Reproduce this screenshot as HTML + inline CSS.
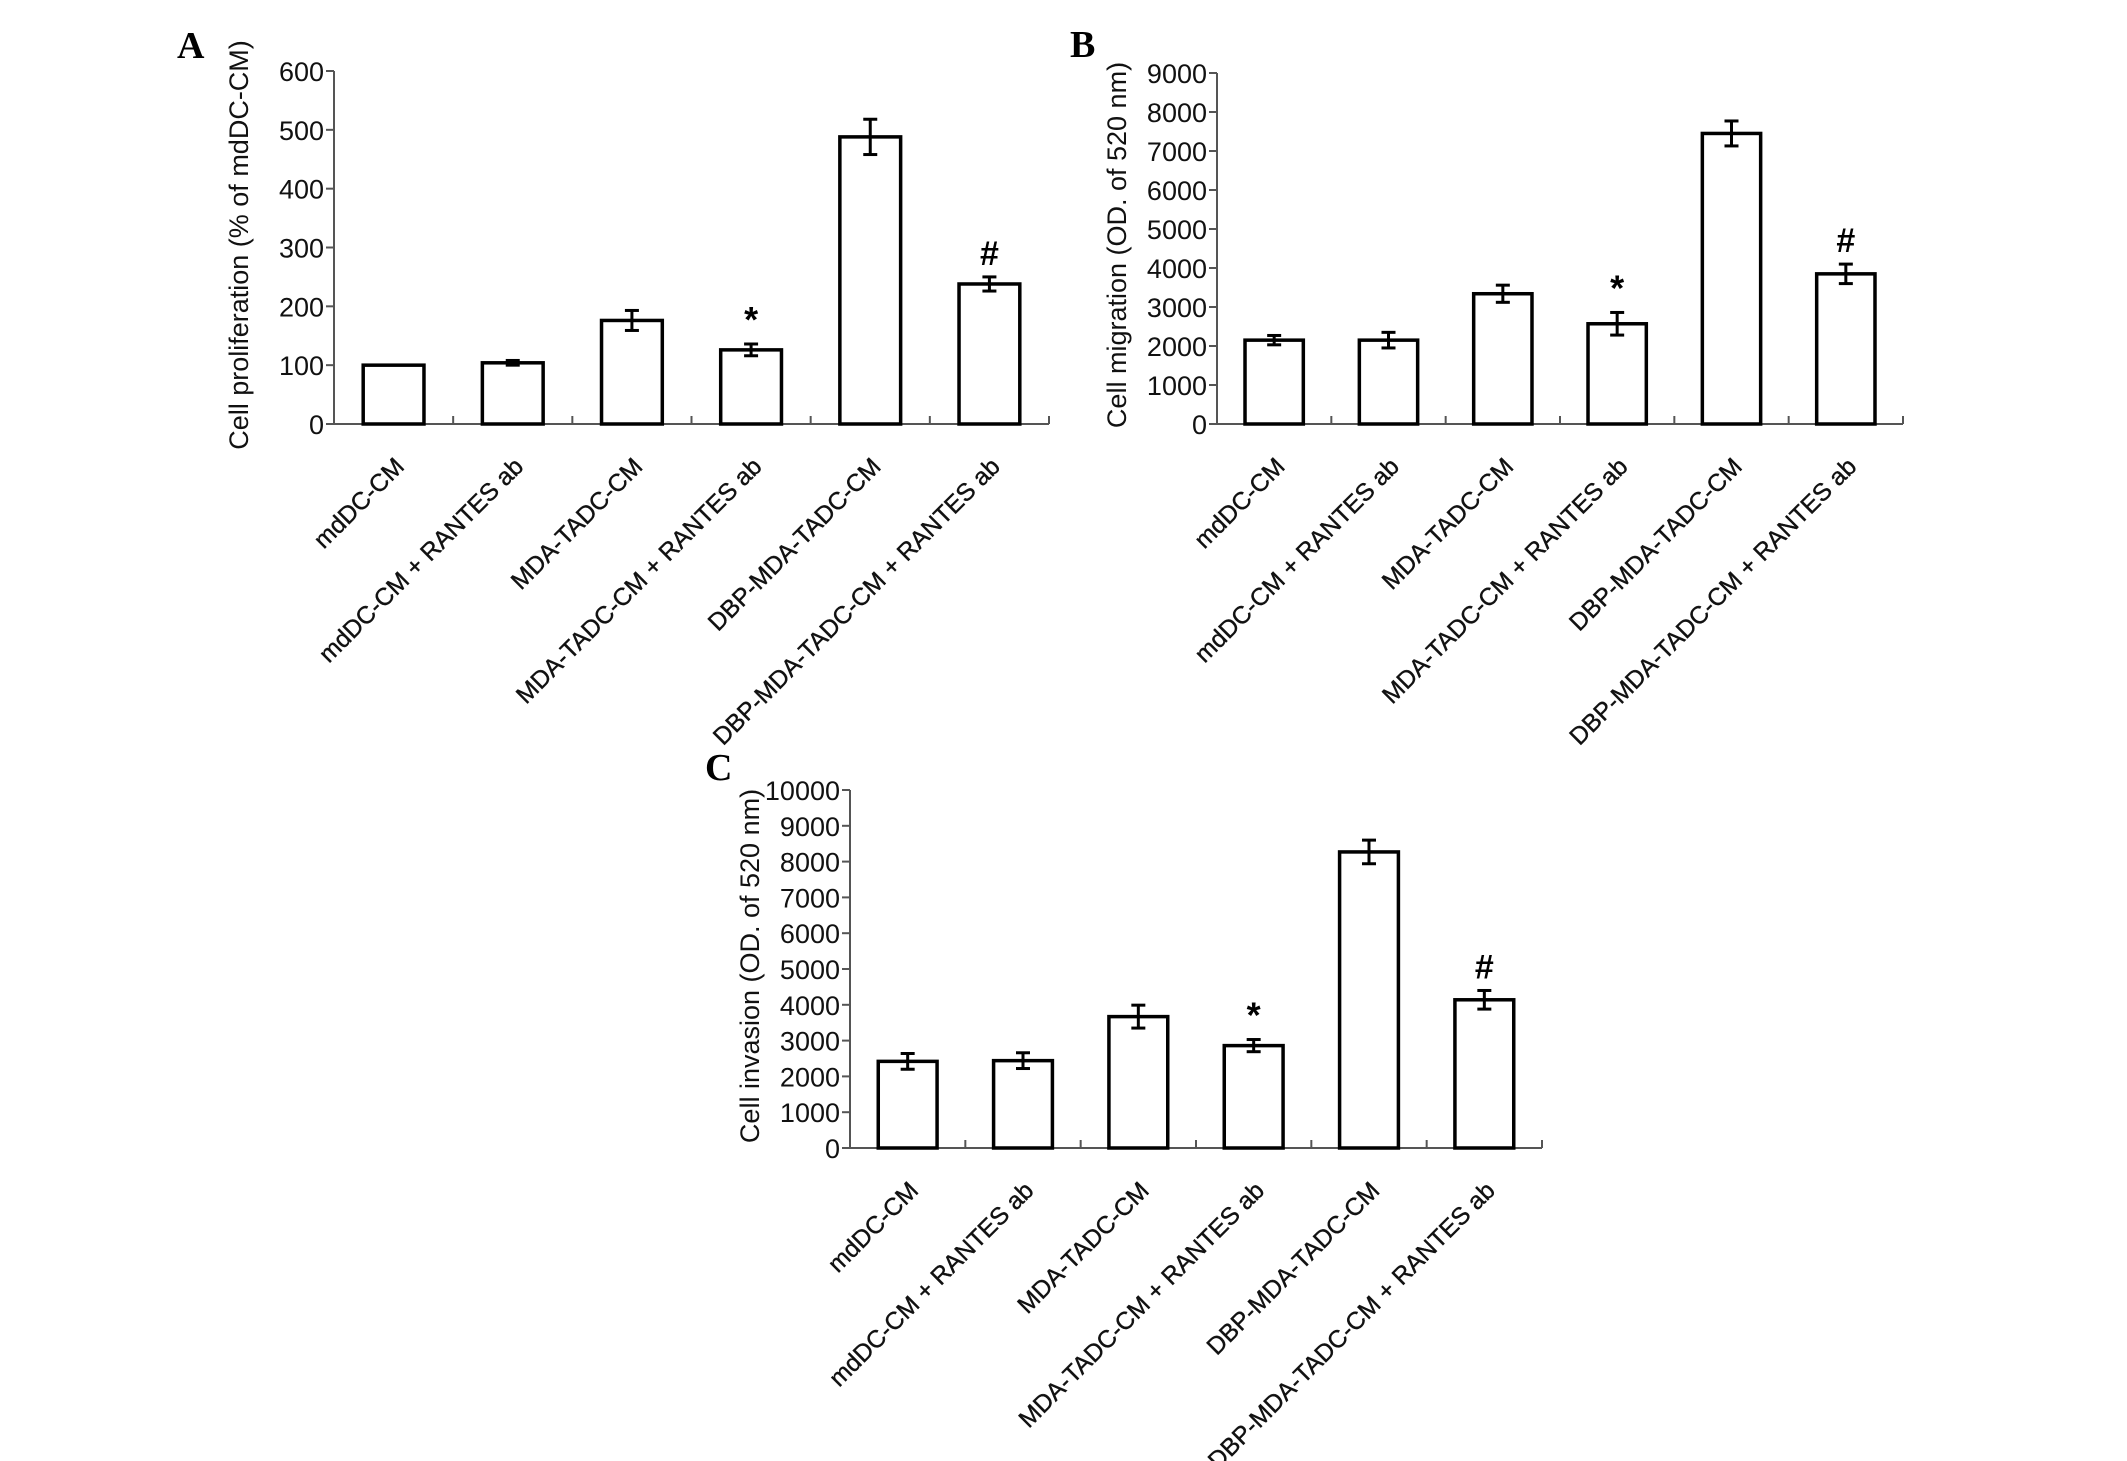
<!DOCTYPE html>
<html><head><meta charset="utf-8"><style>
html,body{margin:0;padding:0;background:#fff;}
svg{display:block;font-family:"Liberation Sans",Arial,sans-serif;}
</style></head><body>
<svg id="fig" width="2127" height="1461" viewBox="0 0 2127 1461" xmlns="http://www.w3.org/2000/svg"></svg>
<script>
const categories = ["mdDC-CM","mdDC-CM + RANTES ab","MDA-TADC-CM","MDA-TADC-CM + RANTES ab","DBP-MDA-TADC-CM","DBP-MDA-TADC-CM + RANTES ab"];
const valuesA = [100,104,176,126,488,238];
const errorsA = [0,4,17,10,30,12];
const ticksA = [0,100,200,300,400,500,600];
const valuesB = [2150,2150,3340,2570,7450,3850];
const errorsB = [120,200,220,290,320,250];
const ticksB = [0,1000,2000,3000,4000,5000,6000,7000,8000,9000];
const valuesC = [2420,2440,3670,2860,8270,4140];
const errorsC = [220,220,320,170,330,260];
const ticksC = [0,1000,2000,3000,4000,5000,6000,7000,8000,9000,10000];
const marksA = ["","","","*","","#"];
const marksB = ["","","","*","","#"];
const marksC = ["","","","*","","#"];

const NS="http://www.w3.org/2000/svg";
const svg=document.getElementById('fig');
function mk(tag,attrs,parent){const e=document.createElementNS(NS,tag);for(const k in attrs)e.setAttribute(k,attrs[k]);(parent||svg).appendChild(e);return e;}

function panel(cfg,values,errors,ticks,marks){
  const g=mk('g',{});
  
  
  const ymax=ticks[ticks.length-1];
  const y=v=>cfg.y0-(v/ymax)*(cfg.y0-cfg.yTop);
  const cw=(cfg.x1-cfg.x0)/categories.length;
  const xc=i=>cfg.x0+cw*(i+0.5);
  const lab=mk('text',{x:cfg.lx,y:cfg.ly,'font-family':'Liberation Serif,serif','font-weight':'bold','font-size':38},g);
  lab.textContent=cfg.id;
  
  
  const ax=mk('g',{},g);
  
  
  mk('line',{x1:cfg.x0,y1:cfg.y0,x2:cfg.x0,y2:cfg.yTop,stroke:'#555','stroke-width':2},ax);
  ticks.forEach(t=>{
    mk('line',{x1:cfg.x0-8,y1:y(t),x2:cfg.x0,y2:y(t),stroke:'#555','stroke-width':2},ax);
    const tx=mk('text',{x:cfg.x0-10,y:y(t)+10,'text-anchor':'end','font-size':27,fill:'#111'},ax);
    tx.textContent=t;
    
    
  });
  const xa=mk('g',{},g);
  
  
  mk('line',{x1:cfg.x0,y1:cfg.y0,x2:cfg.x1,y2:cfg.y0,stroke:'#555','stroke-width':2},xa);
  for(let i=1;i<=categories.length;i++) mk('line',{x1:cfg.x0+cw*i,y1:cfg.y0,x2:cfg.x0+cw*i,y2:cfg.y0-8,stroke:'#555','stroke-width':2},xa);
  const tt=mk('text',{transform:`translate(${cfg.tx},${cfg.ty}) rotate(-90)`,'text-anchor':'middle','font-size':27,fill:'#111'},g);
  tt.textContent=cfg.title;
  
  
  values.forEach((v,i)=>{
    const bw=cw*0.51;
    const r=mk('rect',{x:xc(i)-bw/2,y:y(v),width:bw,height:cfg.y0-y(v),fill:'#fff',stroke:'#000','stroke-width':3.5},g);
    
    
    const e=errors[i];
    if(e>0){
      const eg=mk('g',{stroke:'#000','stroke-width':3},g);
      
      
      mk('line',{x1:xc(i),y1:y(v-e),x2:xc(i),y2:y(v+e)},eg);
      mk('line',{x1:xc(i)-7,y1:y(v-e),x2:xc(i)+7,y2:y(v-e)},eg);
      mk('line',{x1:xc(i)-7,y1:y(v+e),x2:xc(i)+7,y2:y(v+e)},eg);
    }
    if(marks[i]){
      const m=mk('text',{x:xc(i),y:y(v+e)-12,'text-anchor':'middle','font-size':marks[i]=='#'?34:36,'font-weight':'bold'},g);
      m.textContent=marks[i];
      
      
    }
    const cl=mk('text',{transform:`translate(${xc(i)+12},${cfg.y0+44}) rotate(-45)`,'text-anchor':'end','font-size':24.5,fill:'#111','stroke':'#111','stroke-width':0.4},g);
    cl.textContent=categories[i];
    
    
  });
}
panel({id:'A',x0:334,x1:1049,y0:424,yTop:71,lx:177,ly:58,tx:248,ty:245,title:'Cell proliferation (% of mdDC-CM)'},valuesA,errorsA,ticksA,marksA);
panel({id:'B',x0:1217,x1:1903,y0:424,yTop:73,lx:1070,ly:57,tx:1126,ty:245,title:'Cell migration (OD. of 520 nm)'},valuesB,errorsB,ticksB,marksB);
panel({id:'C',x0:850,x1:1542,y0:1148,yTop:790,lx:705,ly:780,tx:759,ty:966,title:'Cell invasion (OD. of 520 nm)'},valuesC,errorsC,ticksC,marksC);
</script>
</body></html>
